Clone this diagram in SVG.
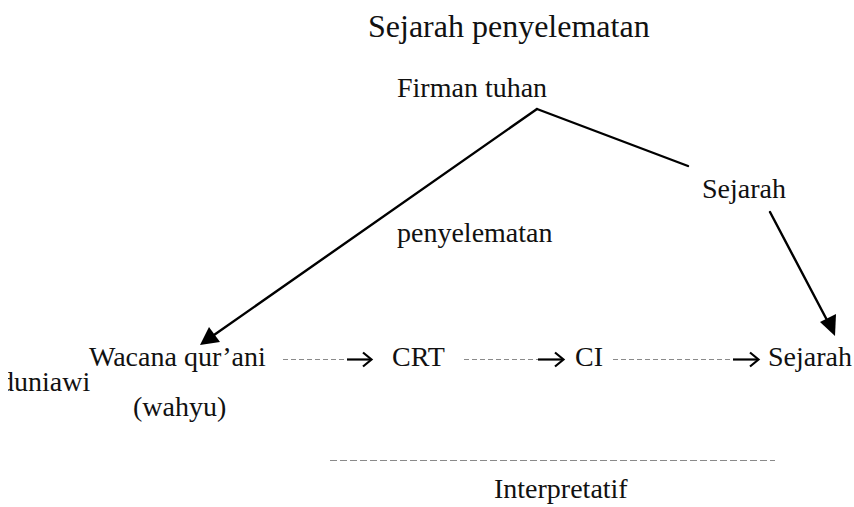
<svg xmlns="http://www.w3.org/2000/svg" width="854" height="507" viewBox="0 0 854 507">
<style>
  text { font-family: "Liberation Serif", "Times New Roman", serif; font-size: 28px; fill: #111; }
  .title { font-size: 32px; }
  .solid { stroke: #000; stroke-width: 2.4; fill: none; stroke-linecap: round; }
  .dash { stroke: #8a8a8a; stroke-width: 1.2; stroke-dasharray: 5 3; fill: none; }
  .dash2 { stroke: #8a8a8a; stroke-width: 1.2; stroke-dasharray: 7 3; fill: none; }
  .chev { stroke: #000; stroke-width: 2.2; fill: none; stroke-linejoin: miter; }
  .head { fill: #000; }
</style>
<defs>
  <clipPath id="leftclip"><rect x="8" y="0" width="846" height="507"/></clipPath>
</defs>
<g id="title"><text class="title" x="368" y="37">Sejarah penyelematan</text></g>
<g id="firman"><text x="397" y="97">Firman tuhan</text></g>
<g id="penyelematan"><text x="397" y="242">penyelematan</text></g>
<g id="sejarah-top"><text x="702" y="198">Sejarah</text></g>
<g id="wacana"><text x="89" y="366">Wacana qur’ani</text></g>
<g id="duniawi" clip-path="url(#leftclip)"><text x="0" y="391">duniawi</text></g>
<g id="wahyu"><text x="133" y="416">(wahyu)</text></g>
<g id="crt"><text x="392" y="366">CRT</text></g>
<g id="ci"><text x="575" y="366">CI</text></g>
<g id="sejarah-bottom"><text x="768" y="366">Sejarah</text></g>
<g id="interpretatif"><text x="494" y="498">Interpretatif</text></g>
<g id="connectors">
  <line class="solid" x1="537" y1="109" x2="214" y2="335"/>
  <polygon class="head" points="200,345 209,327 220,342"/>
  <line class="solid" x1="537" y1="109" x2="688" y2="166"/>
  <line class="solid" x1="770" y1="212" x2="828" y2="322"/>
  <polygon class="head" points="835,336 820,322 836,314"/>
  <line class="dash" x1="283" y1="359.5" x2="347" y2="359.5"/>
  <line class="chev" x1="347" y1="359.5" x2="371" y2="359.5"/>
  <polyline class="chev" points="363,352.5 371.5,359.5 363,366.5"/>
  <line class="dash" x1="464" y1="359.5" x2="538" y2="359.5"/>
  <line class="chev" x1="538" y1="359.5" x2="563" y2="359.5"/>
  <polyline class="chev" points="555,352.5 563.5,359.5 555,366.5"/>
  <line class="dash" x1="613" y1="359.5" x2="733" y2="359.5"/>
  <line class="chev" x1="733" y1="359.5" x2="758" y2="359.5"/>
  <polyline class="chev" points="750,352.5 758.5,359.5 750,366.5"/>
  <line class="dash2" x1="330" y1="460.5" x2="775" y2="460.5"/>
</g>
</svg>
